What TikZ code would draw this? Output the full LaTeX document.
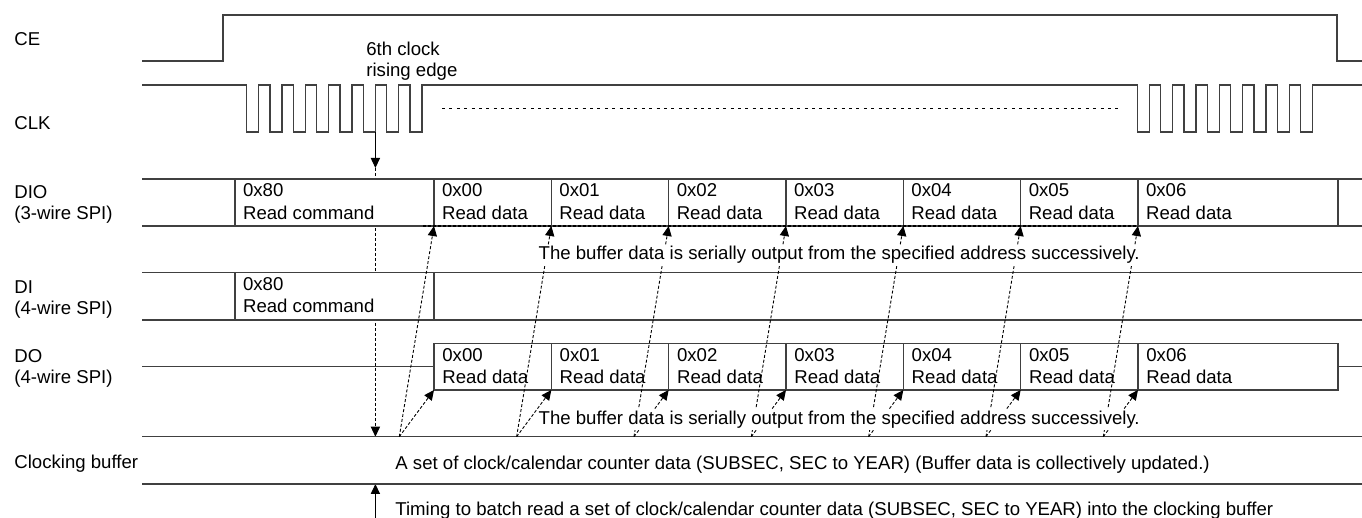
\documentclass[tikz,border=0pt]{standalone}
\usepackage{fontspec}
\setmainfont{Liberation Sans}
\usetikzlibrary{arrows.meta}
\begin{document}
\begin{tikzpicture}[x=0.5pt,y=-0.5pt,
  font=\fontsize{9.3}{11.3}\selectfont,
  wire/.style={draw=black!75, line width=0.6pt},
  lbl/.style={anchor=base west, inner sep=0pt, align=left},
  sig/.style={lbl, font=\fontsize{9.3}{10.5}\selectfont},
  note/.style={anchor=base west, inner sep=1pt, fill=white},
  dots/.style={black, line width=0.45pt, dash pattern=on 1.5pt off 1pt},
  tip/.style={-{Triangle[length=5pt,width=4.6pt]}},
  solidarrow/.style={black, line width=0.5pt}
]
\useasboundingbox (0,0) rectangle (1362,518);

% ---- signal labels (base anchor = baseline of last line)
\node[sig] (lce) at (14,46) {CE};
\node[sig] (lclk) at (14,129.3) {CLK};
\node[sig] (ldio) at (14,220) {DIO\\(3-wire SPI)};
\node[sig] (ldi) at (14,314.3) {DI\\(4-wire SPI)};
\node[sig] (ldo) at (14,383.7) {DO\\(4-wire SPI)};
\node[sig] (lbuf) at (14,468.5) {Clocking buffer};

% ---- CE
\draw[wire] (142,61) -- (223,61) -- (223,15) -- (1337,15) -- (1337,61) -- (1362,61);

% ---- CLK
\draw[wire] (142,85)
  foreach \k in {0,...,7} { -- ({246.7+23.333*\k},85) -- ({246.7+23.333*\k},132)
     -- ({258.7+23.333*\k},132) -- ({258.7+23.333*\k},85) }
  foreach \k in {0,...,7} { -- ({1137.3+23.333*\k},85) -- ({1137.3+23.333*\k},132)
     -- ({1149.3+23.333*\k},132) -- ({1149.3+23.333*\k},85) }
  -- (1362,85);
\draw[black, line width=0.45pt, dash pattern=on 1.5pt off 2.2pt] (442,108) -- (1120,108);
\node[lbl, font=\fontsize{9.3}{10.3}\selectfont] (n6) at (366,76.6) {6th clock\\rising edge};

% ---- 6th clock edge arrow and its dotted continuation
\coordinate (e6) at (375.4,132);
\coordinate (e6t) at (375.4,168);
\coordinate (bufT) at (375.4,436.7);
\coordinate (bufB) at (375.4,484);
\coordinate (tb) at (375.4,518);
\draw[solidarrow, tip] (e6) -- (e6t);
\draw[dots, tip] (e6t) -- (bufT);
\draw[solidarrow, tip] (tb) -- (bufB);

% ---- DIO row
\draw[wire] (142,179) -- (1362,179);
\draw[wire] (142,226) -- (1362,226);
\draw[wire, fill=white] (235,179) rectangle (434,226);
\foreach \k in {1,...,6} { \draw[wire] ({434+117.333*\k},179) -- ({434+117.333*\k},226); }
\draw[wire] (1338,179) -- (1338,226);
\draw[black, line width=0.7pt, dash pattern=on 1.7pt off 0.8pt] (423,226) -- (1138,226);
\node[lbl] (dio80) at (242.7,219.3) {0x80\\Read command};
\foreach \k in {0,...,6} {
  \node[lbl] (dio\k) at ({441.7+117.333*\k},219.3) {0x0\k\\Read data};
}

% ---- DI row
\draw[wire] (142,272.7) -- (1362,272.7);
\draw[wire] (142,320) -- (1362,320);
\draw[wire, fill=white] (235,272.7) rectangle (434,320);
\node[lbl] (di80) at (242.7,312.7) {0x80\\Read command};

% ---- DO row
\draw[wire] (142,366.7) -- (434,366.7);
\draw[wire] (1338,366.7) -- (1362,366.7);
\draw[wire] (434,343.3) rectangle (1338,390);
\foreach \k in {1,...,6} { \draw[wire] ({434+117.333*\k},343.3) -- ({434+117.333*\k},390); }
\foreach \k in {0,...,6} {
  \node[lbl] (do\k) at ({442+117.333*\k},384) {0x0\k\\Read data};
}

% ---- clocking buffer row
\draw[wire] (142,436.7) -- (1362,436.7);
\draw[wire] (142,484) -- (1362,484);

% ---- buffer to output arrows
\foreach \k in {0,...,6} {
  \pgfmathsetmacro\cx{434+117.333*\k}
  \coordinate (s\k) at ({\cx-34.7},436.7);
  \coordinate (d\k) at (\cx,390);
  \coordinate (u\k) at (\cx,226);
  \draw[dots, tip] (s\k) -- (d\k);
  \draw[dots, tip] (s\k) -- (u\k);
}

% ---- notes
\node[note] (ndio) at (536.3,260) {The buffer data is serially output from the specified address successively.};
\node[note] (ndo) at (536.3,424.3) {The buffer data is serially output from the specified address successively.};
\node[lbl] (bufdata) at (395,469.3) {A set of clock/calendar counter data (SUBSEC, SEC to YEAR) (Buffer data is collectively updated.)};
\node[lbl] (timing) at (395,516) {Timing to batch read a set of clock/calendar counter data (SUBSEC, SEC to YEAR) into the clocking buffer};
\end{tikzpicture}
\end{document}
